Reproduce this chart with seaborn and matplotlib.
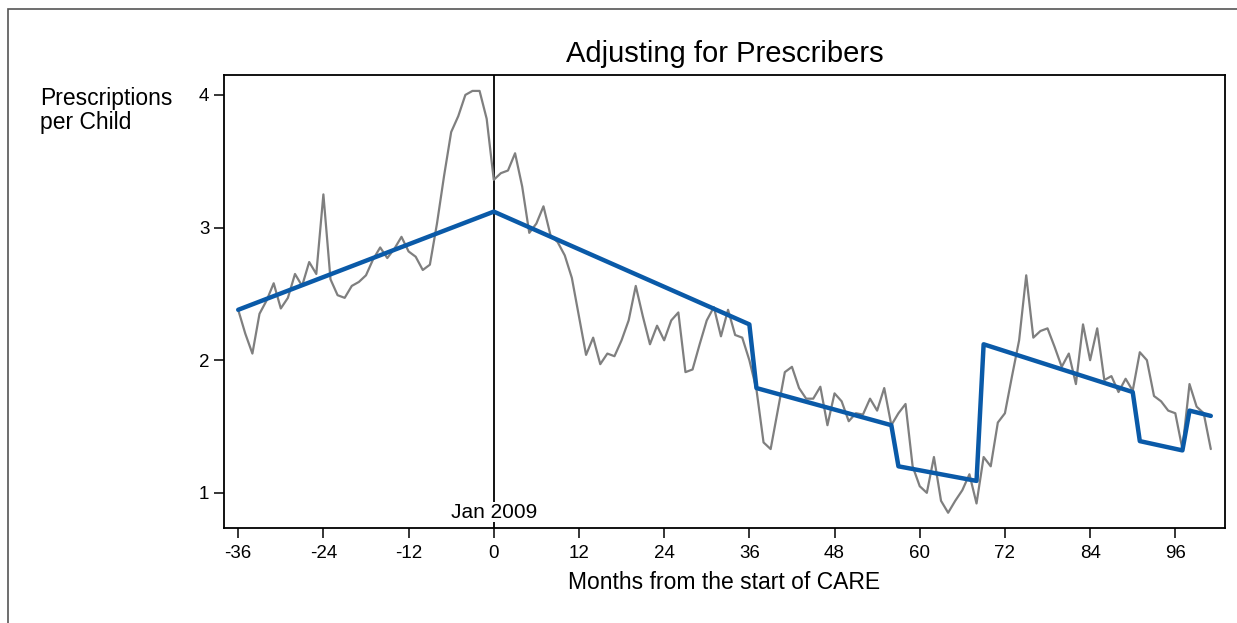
import numpy as np
import pandas as pd
import seaborn as sns
import matplotlib.pyplot as plt
from matplotlib.patches import Rectangle

# monthly prescriptions per child, months -36 .. 101 from the start of CARE
prescriptions = [
    2.38, 2.20, 2.05, 2.35, 2.45, 2.58, 2.39, 2.47, 2.65, 2.56,
    2.74, 2.65, 3.25, 2.61, 2.49, 2.47, 2.56, 2.59, 2.64, 2.76,
    2.85, 2.77, 2.84, 2.93, 2.82, 2.78, 2.68, 2.72, 3.03, 3.39,
    3.72, 3.84, 4.00, 4.03, 4.03, 3.82, 3.36, 3.41, 3.43, 3.56,
    3.31, 2.96, 3.03, 3.16, 2.94, 2.89, 2.79, 2.62, 2.33, 2.04,
    2.17, 1.97, 2.05, 2.03, 2.15, 2.30, 2.56, 2.33, 2.12, 2.26,
    2.15, 2.30, 2.36, 1.91, 1.93, 2.12, 2.30, 2.40, 2.18, 2.38,
    2.19, 2.17, 2.00, 1.78, 1.38, 1.33, 1.62, 1.91, 1.95, 1.79,
    1.71, 1.71, 1.80, 1.51, 1.75, 1.69, 1.54, 1.60, 1.59, 1.71,
    1.62, 1.79, 1.51, 1.60, 1.67, 1.20, 1.05, 1.00, 1.27, 0.94,
    0.85, 0.94, 1.02, 1.14, 0.92, 1.27, 1.20, 1.53, 1.60, 1.88,
    2.15, 2.64, 2.17, 2.22, 2.24, 2.10, 1.95, 2.05, 1.82, 2.27,
    2.00, 2.24, 1.85, 1.88, 1.76, 1.86, 1.77, 2.06, 2.00, 1.73,
    1.69, 1.62, 1.60, 1.33, 1.82, 1.65, 1.60, 1.33,
]
months = list(range(-36, -36 + len(prescriptions)))

# fitted segmented trend (knots of the blue line)
fit_months = [-36, 0, 36, 37, 56, 57, 68, 69, 90, 91, 97, 98, 101]
fit_values = [2.38, 3.12, 2.27, 1.79, 1.51, 1.20, 1.09, 2.12, 1.76, 1.39, 1.32, 1.62, 1.58]

x_ticks = list(range(-36, 97, 12))
y_ticks = [1, 2, 3, 4]

df = pd.DataFrame({"month": months, "rx": prescriptions})
df_fit = pd.DataFrame({"month": fit_months, "rx": fit_values})

sns.set_style("ticks")
plt.rcParams["font.family"] = ["Liberation Sans", "DejaVu Sans"]
plt.rcParams["axes.unicode_minus"] = False
plt.rcParams["text.color"] = "black"
plt.rcParams["axes.labelcolor"] = "black"

fig = plt.figure(figsize=(12.37, 6.23), dpi=100)
ax = fig.add_axes([224 / 1237, 1 - 528 / 623, (1225 - 224) / 1237, (528 - 75) / 623])

ax.axvline(0, color="black", lw=1.3, zorder=1)
sns.lineplot(data=df, x="month", y="rx", ax=ax, color="#7f7f7f", lw=1.6, zorder=2)
sns.lineplot(data=df_fit, x="month", y="rx", ax=ax, color="#0a5aa8", lw=3.2, zorder=3)

ax.set_xlim(-38, 103)
ax.set_ylim(0.735, 4.15)
ax.set_xticks(x_ticks)
ax.set_yticks(y_ticks)
ax.tick_params(axis="both", direction="out", length=7, width=1.1, labelsize=13.5, colors="black")
ax.tick_params(axis="x", pad=5)
for s in ax.spines.values():
    s.set_linewidth(1.3)
    s.set_color("black")

ax.set_xlabel("Months from the start of CARE", fontsize=16.5, labelpad=7)
ax.set_ylabel("")
ax.set_title("Adjusting for Prescribers", fontsize=21, pad=9)

ax.text(0, 0.855, "Jan 2009", ha="center", va="center", fontsize=15,
        bbox=dict(facecolor="white", edgecolor="none", pad=0.5), zorder=4)

fig.text(40 / 1237, 1 - 87 / 623, "Prescriptions\nper Child", ha="left", va="top",
         fontsize=16.5, linespacing=1.05)

# outer frame of the original figure
fig.add_artist(Rectangle((8 / 1237, -0.5), 2, 0.5 + (1 - 9 / 623), transform=fig.transFigure,
                         fill=False, edgecolor="#555555", lw=1.2))

fig.savefig("out.png", dpi=100)
